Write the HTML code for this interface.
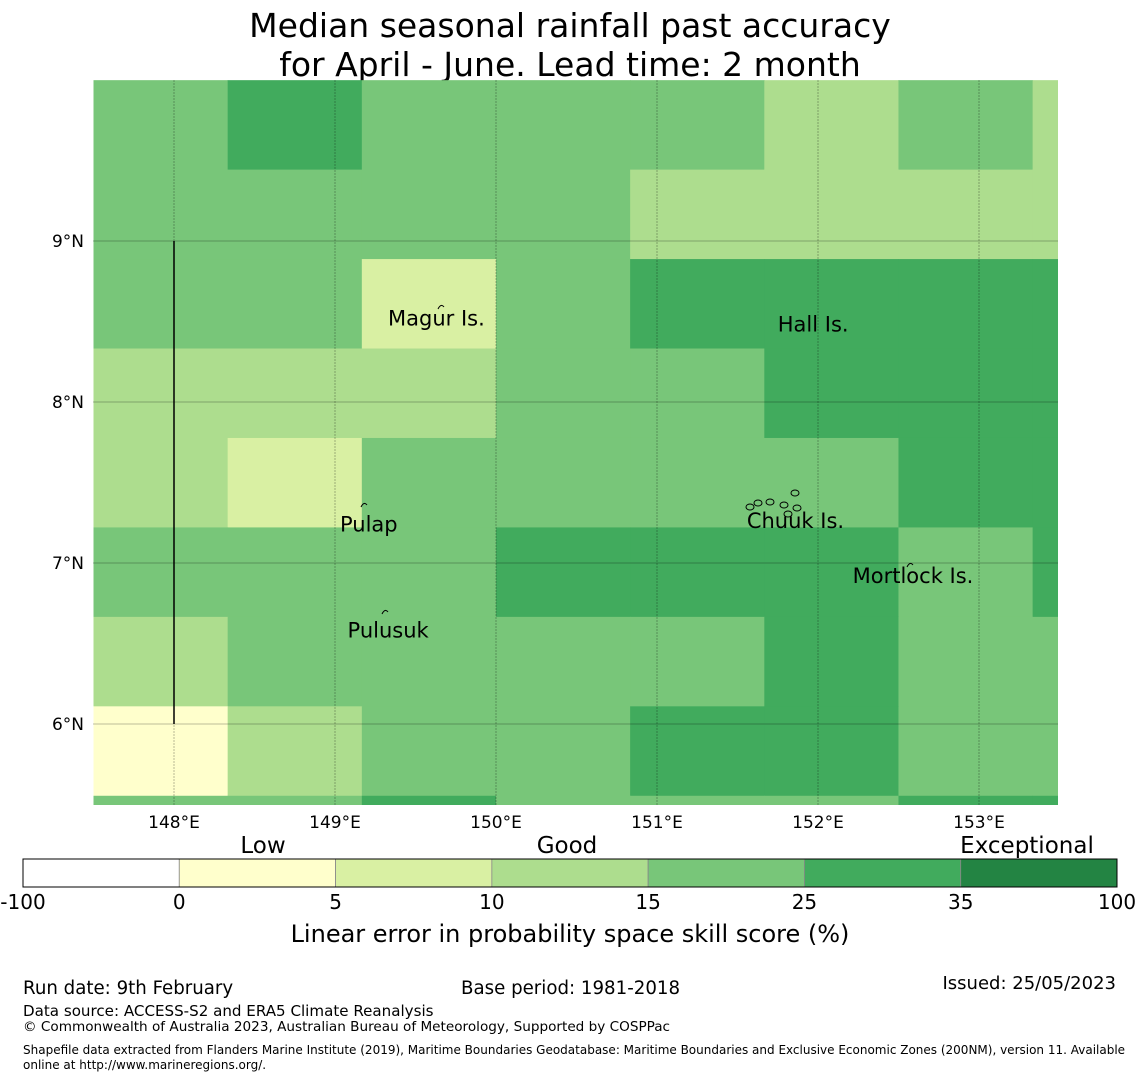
<!DOCTYPE html>
<html><head><meta charset="utf-8">
<style>
body{margin:0;background:#fff;width:1140px;height:1080px;overflow:hidden;font-family:"Liberation Sans","DejaVu Sans",sans-serif;}
svg text{font-family:"DejaVu Sans","Liberation Sans",sans-serif;}
</style></head>
<body>
<svg id="chart" width="1140" height="1080" xmlns="http://www.w3.org/2000/svg">
<text x="570" y="37" font-size="33" text-anchor="middle">Median seasonal rainfall past accuracy</text>
<text x="570" y="76" font-size="33" text-anchor="middle">for April - June. Lead time: 2 month</text>
<g id="map"></g>
<g id="cbar"></g>
<text x="570" y="942" font-size="24" text-anchor="middle">Linear error in probability space skill score (%)</text>
<text x="23" y="994" font-size="18.2">Run date: 9th February</text>
<text x="461" y="994" font-size="18.2">Base period: 1981-2018</text>
<text x="1116" y="989" font-size="18" text-anchor="end">Issued: 25/05/2023</text>
<text x="23" y="1016" font-size="15.1">Data source: ACCESS-S2 and ERA5 Climate Reanalysis</text>
<text x="23" y="1031" font-size="13.6">© Commonwealth of Australia 2023, Australian Bureau of Meteorology, Supported by COSPPac</text>
<text x="23" y="1054" font-size="12">Shapefile data extracted from Flanders Marine Institute (2019), Maritime Boundaries Geodatabase: Maritime Boundaries and Exclusive Economic Zones (200NM), version 11. Available</text>
<text x="23" y="1069" font-size="12">online at http://www.marineregions.org/.</text>
</svg>
<script>
// skill score values per cell (rows north->south, cols west->east)
const skillRows = [
  [20,30,20,20,20,12,20,12],
  [20,20,20,20,12,12,12,12],
  [20,20,8,20,30,30,30,30],
  [12,12,12,20,20,30,30,30],
  [12,8,20,20,20,20,30,30],
  [20,20,20,30,30,30,20,30],
  [12,20,20,20,20,30,20,20],
  [3,12,20,20,30,30,20,20],
  [20,20,30,20,20,20,30,30]
];
const cellLonStart = 147.5;
const cellLatTop = 9.999;
const cellDLon = 0.8333;
const cellDLat = 0.5556;
const lonTicks = [148,149,150,151,152,153];
const latTicks = [9,8,7,6];
const levelBounds = [-100,0,5,10,15,25,35,100];
const levelColors = ["#ffffff","#ffffcc","#d9f0a3","#addd8e","#78c679","#41ab5d","#238443"];
const cbarLabels = ["-100","0","5","10","15","25","35","100"];
const islands = [
  {name:"Magur Is.", lon:149.63, lat:8.52},
  {name:"Hall Is.", lon:151.97, lat:8.48},
  {name:"Pulap", lon:149.21, lat:7.24},
  {name:"Chuuk Is.", lon:151.86, lat:7.26},
  {name:"Mortlock Is.", lon:152.59, lat:6.92},
  {name:"Pulusuk", lon:149.33, lat:6.58}
];

const NS="http://www.w3.org/2000/svg";
const X0=93,X1=1058,Y0=80,Y1=805;
const xScale = lon => 174 + (lon-148)*161;
const yScale = lat => 241 + (9-lat)*161;
function colorFor(v){for(let i=0;i<levelColors.length;i++){if(v<levelBounds[i+1])return levelColors[i];}return levelColors[levelColors.length-1];}
function mk(tag,attrs,parent){const e=document.createElementNS(NS,tag);for(const k in attrs)e.setAttribute(k,attrs[k]);parent.appendChild(e);return e;}

const map=document.getElementById('map');
const defs=mk('defs',{},map);
const cp=mk('clipPath',{id:'mclip'},defs);
mk('rect',{x:X0,y:Y0,width:X1-X0,height:Y1-Y0},cp);
const cells=mk('g',{'clip-path':'url(#mclip)'},map);
skillRows.forEach((row,r)=>{
  row.forEach((v,c)=>{
    const xa=xScale(cellLonStart+c*cellDLon), xb=xScale(cellLonStart+(c+1)*cellDLon);
    const ya=yScale(cellLatTop-r*cellDLat), yb=yScale(cellLatTop-(r+1)*cellDLat);
    const el=mk('rect',{x:xa,y:ya,width:xb-xa+0.5,height:yb-ya+0.5,fill:colorFor(v)},cells);
    
    
  });
});
lonTicks.forEach(lon=>{
  const x=xScale(lon);
  const l=mk('line',{x1:x,x2:x,y1:Y0,y2:Y1,stroke:'#000','stroke-opacity':0.35,'stroke-width':0.8,'stroke-dasharray':'2,1'},map);
  
  
  const t=mk('text',{x:x,y:828,'font-size':17,'text-anchor':'middle'},map);
  t.textContent=lon+'°E';
  
  
});
latTicks.forEach(lat=>{
  const y=yScale(lat);
  const l=mk('line',{x1:X0,x2:X1,y1:y,y2:y,stroke:'#000','stroke-opacity':0.35,'stroke-width':0.8},map);
  
  
  const t=mk('text',{x:84,y:y+6,'font-size':17,'text-anchor':'end'},map);
  t.textContent=lat+'°N';
  
  
});
const bl=mk('line',{x1:xScale(148),x2:xScale(148),y1:yScale(9),y2:yScale(6),stroke:'#000','stroke-width':1.5},map);


[[441,307],[364,505],[385,612],[910,565]].forEach(p=>{
  const s=mk('path',{d:`M${p[0]-3},${p[1]+2} q3,-6 6,-2`,fill:'none',stroke:'#000','stroke-width':1},map);
  
  
});
[[750,507],[758,503],[770,502],[784,505],[795,493],[797,508],[788,514]].forEach(p=>{
  const s=mk('ellipse',{cx:p[0],cy:p[1],rx:4,ry:3,fill:'none',stroke:'#000','stroke-width':1},map);
  
  
});
islands.forEach(is=>{
  const t=mk('text',{x:xScale(is.lon),y:yScale(is.lat)+7,'font-size':21,'text-anchor':'middle'},map);
  t.textContent=is.name;
  
  
});

const cb=document.getElementById('cbar');
const CX0=23,CX1=1117,CY=859,CH=28;
const segW=(CX1-CX0)/levelColors.length;
levelColors.forEach((col,i)=>{
  const r=mk('rect',{x:CX0+i*segW,y:CY,width:segW,height:CH,fill:col,stroke:'#888','stroke-width':0.8},cb);
  
  
});
mk('rect',{x:CX0,y:CY,width:CX1-CX0,height:CH,fill:'none',stroke:'#000','stroke-width':1},cb);
cbarLabels.forEach((lab,i)=>{
  const t=mk('text',{x:CX0+i*segW,y:909,'font-size':20,'text-anchor':'middle'},cb);
  t.textContent=lab;
  
  
});
[["Low",263],["Good",567],["Exceptional",1027]].forEach(a=>{
  const t=mk('text',{x:a[1],y:853,'font-size':23,'text-anchor':'middle'},cb);
  t.textContent=a[0];
  
  
});
</script>
</body></html>
